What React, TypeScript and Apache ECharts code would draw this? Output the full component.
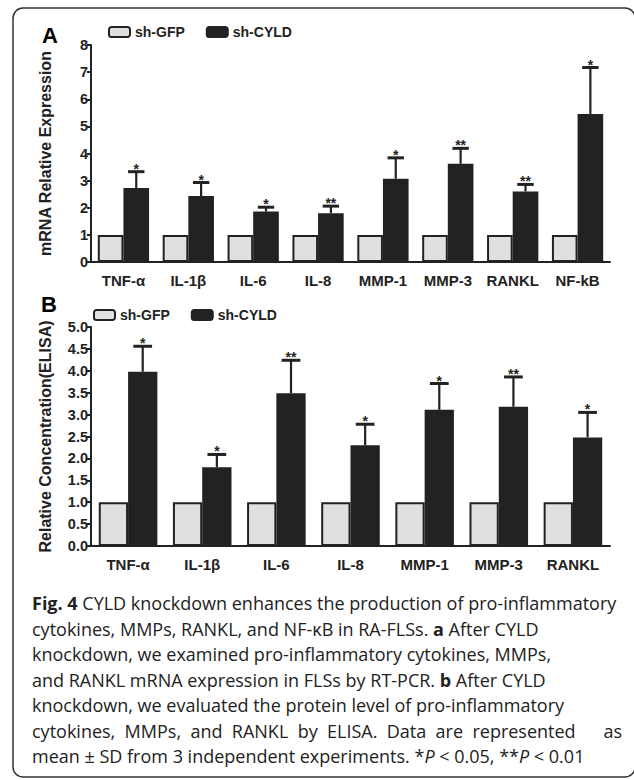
import React, { useEffect, useRef } from "react";
import * as echarts from "echarts";

const catsA = ["TNF-α", "IL-1β", "IL-6", "IL-8", "MMP-1", "MMP-3", "RANKL", "NF-kB"];
const gfpA = [1, 1, 1, 1, 1, 1, 1, 1];
const cyldA = [2.73, 2.43, 1.86, 1.8, 3.07, 3.62, 2.6, 5.46];
const errTopA = [3.33, 2.93, 2.02, 2.06, 3.84, 4.19, 2.86, 7.17];
const sigA = ["*", "*", "*", "**", "*", "**", "**", "*"];

const catsB = ["TNF-α", "IL-1β", "IL-6", "IL-8", "MMP-1", "MMP-3", "RANKL"];
const gfpB = [1, 1, 1, 1, 1, 1, 1];
const cyldB = [3.98, 1.8, 3.49, 2.3, 3.11, 3.18, 2.48];
const errTopB = [4.56, 2.09, 4.24, 2.78, 3.71, 3.86, 3.05];
const sigB = ["*", "*", "**", "*", "*", "**", "*"];

const GAP = 0.21;
const FONT = "'Liberation Sans', Arial, sans-serif";
const DARK = "#222";

function errSeries(gridIdx: number, means: number[], tops: number[], sig: string[]) {
  return {
    type: "custom",
    xAxisIndex: gridIdx,
    yAxisIndex: gridIdx,
    z: 5,
    silent: true,
    data: means.map((m, i) => [i, m, tops[i]]),
    renderItem: (params: any, api: any) => {
      const idx = api.value(0);
      const c = api.coord([idx, api.value(1)]);
      const t = api.coord([idx, api.value(2)]);
      const band = api.size([1, 0])[0];
      const bw = (band * (1 - GAP)) / 2;
      const x = c[0] + bw / 2;
      const half = bw * 0.32;
      return {
        type: "group",
        children: [
          { type: "line", shape: { x1: x, y1: c[1], x2: x, y2: t[1] }, style: { stroke: DARK, lineWidth: 2.2 } },
          { type: "line", shape: { x1: x - half, y1: t[1], x2: x + half, y2: t[1] }, style: { stroke: DARK, lineWidth: 3 } },
          {
            type: "text",
            x: x,
            y: t[1] - 3,
            style: {
              text: sig[params.dataIndex],
              fill: DARK,
              font: `bold 14px ${FONT}`,
              align: "center",
              verticalAlign: "middle",
            },
          },
        ],
      };
    },
  };
}

function barPair(gridIdx: number, gfp: number[], cyld: number[]) {
  return [
    {
      name: "sh-GFP",
      type: "bar",
      xAxisIndex: gridIdx,
      yAxisIndex: gridIdx,
      data: gfp,
      barGap: "0%",
      barCategoryGap: "21%",
      itemStyle: { color: "#e0e0e0", borderColor: DARK, borderWidth: 2 },
    },
    {
      name: "sh-CYLD",
      type: "bar",
      xAxisIndex: gridIdx,
      yAxisIndex: gridIdx,
      data: cyld,
      barGap: "0%",
      barCategoryGap: "21%",
      itemStyle: { color: DARK, borderColor: DARK, borderWidth: 2 },
    },
  ];
}

function xAxisDef(gridIdx: number, cats: string[]) {
  return {
    type: "category",
    gridIndex: gridIdx,
    data: cats,
    axisLine: { lineStyle: { color: DARK, width: 2 } },
    axisTick: { alignWithLabel: true, interval: 0, length: 9, lineStyle: { color: DARK, width: 2 } },
    axisLabel: { interval: 0, color: DARK, fontFamily: FONT, fontWeight: "bold", fontSize: 15, margin: 11 },
  };
}

function yAxisDef(gridIdx: number, max: number, interval: number, name: string, digits: number) {
  return {
    type: "value",
    gridIndex: gridIdx,
    min: 0,
    max,
    interval,
    name,
    nameLocation: "middle",
    nameGap: 38,
    nameTextStyle: { color: DARK, fontFamily: FONT, fontWeight: "bold", fontSize: 16 },
    splitLine: { show: false },
    axisLine: { show: true, lineStyle: { color: DARK, width: 2 } },
    axisTick: { show: true, length: 4, lineStyle: { color: DARK, width: 2 } },
    axisLabel: {
      color: DARK,
      fontFamily: FONT,
      fontWeight: "bold",
      fontSize: 14.5,
      margin: 3,
      formatter: (v: number) => v.toFixed(digits),
    },
  };
}

const captionFont = "'Open Sans', 'Noto Sans', sans-serif";
const captionLines: any[] = [
  { y: 607, text: "{b|Fig. 4} CYLD knockdown enhances the production of pro-inflammatory" },
  { y: 633, text: "cytokines, MMPs, RANKL, and NF-κB in RA-FLSs. {b|a} After CYLD" },
  { y: 658, text: "knockdown, we examined pro-inflammatory cytokines, MMPs," },
  { y: 684, text: "and RANKL mRNA expression in FLSs by RT-PCR. {b|b} After CYLD" },
  { y: 709, text: "knockdown, we evaluated the protein level of pro-inflammatory" },
  { y: 735, text: "cytokines,  MMPs,  and  RANKL  by  ELISA.  Data  are  represented" },
  { y: 760, text: "mean ± SD from 3 independent experiments. *{i|P} < 0.05, **{i|P} < 0.01" },
];

export default function App() {
  const ref = useRef<HTMLDivElement>(null);
  useEffect(() => {
    if (!ref.current) return;
    const chart = echarts.init(ref.current, undefined, { renderer: "svg" });
    const captionGraphics = captionLines.map((l) => ({
      type: "text",
      left: 32,
      top: l.y - 13,
      style: {
        text: l.text,
        fill: "#222",
        font: `18px ${captionFont}`,
        rich: {
          b: { fontWeight: "bold", fontSize: 18, fontFamily: captionFont, fill: "#222" },
          i: { fontStyle: "italic", fontSize: 18, fontFamily: captionFont, fill: "#222" },
        },
      },
    }));
    const legendText = { color: DARK, fontFamily: FONT, fontWeight: "bold", fontSize: 14 };
    chart.setOption({
      animation: false,
      backgroundColor: "#fff",
      grid: [
        { left: 91, right: 24, top: 45, height: 217 },
        { left: 91, right: 24, top: 327, height: 219 },
      ],
      legend: [
        {
          left: 108,
          top: 25,
          padding: 0,
          itemWidth: 21,
          itemHeight: 10,
          itemGap: 21,
          data: ["sh-GFP", "sh-CYLD"],
          textStyle: legendText,
          selectedMode: false,
        },
        {
          left: 93,
          top: 308,
          padding: 0,
          itemWidth: 21,
          itemHeight: 10,
          itemGap: 21,
          data: ["sh-GFP", "sh-CYLD"],
          textStyle: legendText,
          selectedMode: false,
        },
      ],
      xAxis: [xAxisDef(0, catsA), xAxisDef(1, catsB)],
      yAxis: [
        yAxisDef(0, 8, 1, "mRNA Relative Expression", 0),
        yAxisDef(1, 5, 0.5, "Relative Concentration(ELISA)", 1),
      ],
      series: [
        ...barPair(0, gfpA, cyldA),
        errSeries(0, cyldA, errTopA, sigA),
        ...barPair(1, gfpB, cyldB),
        errSeries(1, cyldB, errTopB, sigB),
      ],
      graphic: [
        {
          type: "rect",
          shape: { x: 13, y: 8, width: 622, height: 769, r: 10 },
          style: { fill: "none", stroke: "#333", lineWidth: 1.5 },
          silent: true,
        },
        { type: "text", left: 42, top: 24, style: { text: "A", font: `bold 22px ${FONT}`, fill: "#000" } },
        { type: "text", left: 41, top: 293, style: { text: "B", font: `bold 22px ${FONT}`, fill: "#000" } },
        ...captionGraphics,
        {
          type: "text",
          right: 12,
          top: 735 - 13,
          style: { text: "as", fill: "#222", font: `18px ${captionFont}` },
        },
      ],
    });
    return () => chart.dispose();
  }, []);
  return (
    <div
      ref={ref}
      style={{ position: "fixed", left: 0, top: 0, width: 634, height: 780, background: "#fff" }}
    />
  );
}
